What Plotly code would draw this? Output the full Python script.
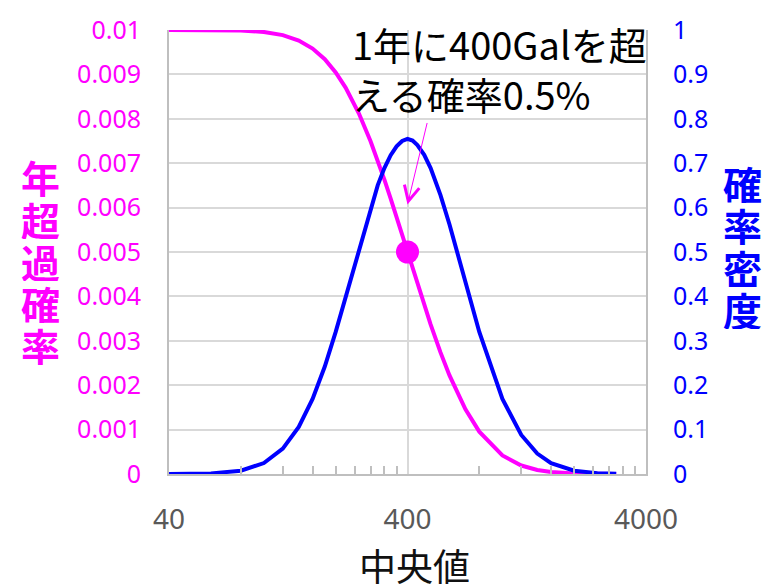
import math
import plotly.graph_objects as go

# ---- data ----
X_VALUES = [40, 60, 80, 100, 120, 140, 160, 180, 200, 220, 250, 280, 300, 320, 340, 360, 380,
            400, 420, 440, 470, 500, 550, 600, 700, 800, 1000, 1200, 1400, 1600, 2000, 2500, 3000]
EXCEEDANCE = [0.01, 0.009998, 0.009988, 0.009956, 0.009885, 0.009762, 0.009581, 0.009341,
              0.009046, 0.008703, 0.008125, 0.007495, 0.007064, 0.006631, 0.006204, 0.005789,
              0.005386, 0.005, 0.004633, 0.004287, 0.003804, 0.003369, 0.002739, 0.002221,
              0.001455, 0.000954, 0.000419, 0.000191, 0.00009, 0.000045, 0.000012, 0.000003,
              0.000001]
DENSITY = [0.0001, 0.0012, 0.0075, 0.0246, 0.057, 0.106, 0.169, 0.242, 0.320, 0.398, 0.508,
           0.600, 0.650, 0.689, 0.718, 0.738, 0.750, 0.755, 0.751, 0.741, 0.719, 0.689, 0.628,
           0.562, 0.431, 0.320, 0.169, 0.088, 0.046, 0.0246, 0.0075, 0.0019, 0.0005]
MARK_X = [400]
MARK_Y = [0.005]
ARROW_Y = 0.00607

X_TICKS = [40, 400, 4000]
X_TICK_TEXT = ["40", "400", "4000"]
MINOR_TICKS = [80, 120, 160, 200, 240, 280, 320, 360,
               800, 1200, 1600, 2000, 2400, 2800, 3200, 3600]
Y1_TICKS = [0, 0.001, 0.002, 0.003, 0.004, 0.005, 0.006, 0.007, 0.008, 0.009, 0.01]
Y1_TEXT = ["0", "0.001", "0.002", "0.003", "0.004", "0.005", "0.006", "0.007", "0.008", "0.009", "0.01"]
Y2_TICKS = [0, 0.1, 0.2, 0.3, 0.4, 0.5, 0.6, 0.7, 0.8, 0.9, 1]
Y2_TEXT = ["0", "0.1", "0.2", "0.3", "0.4", "0.5", "0.6", "0.7", "0.8", "0.9", "1"]

LEFT_TITLE = "年超過確率"
RIGHT_TITLE = "確率密度"
X_TITLE = "中央値"
NOTE_LINES = ["1年に400Galを超", "える確率0.5%"]

MAGENTA = "#FF00FF"
BLUE = "#0000FF"
GRID = "#D9D9D9"
AXIS = "#BFBFBF"
CLEAR = "rgba(0,0,0,0)"
NUM_FONT = "Noto Sans"
CJK_FONT = "Noto Sans CJK JP"

# plot area in pixels: left 169, right 646, top 24, bottom 474
PW, PH, PL, PB = 477.0, 450.0, 169.0, 474.0


def px(xp):
    return (xp - PL) / PW


def py(yp):
    return (PB - yp) / PH


fig = go.Figure()
fig.add_trace(go.Scatter(x=X_VALUES, y=EXCEEDANCE, mode="lines",
                         line=dict(color=MAGENTA, width=4), yaxis="y", showlegend=False))
fig.add_trace(go.Scatter(x=MARK_X, y=MARK_Y, mode="markers",
                         marker=dict(color=MAGENTA, size=23), yaxis="y", showlegend=False))
fig.add_trace(go.Scatter(x=X_VALUES, y=DENSITY, mode="lines",
                         line=dict(color=BLUE, width=4), yaxis="y2", showlegend=False))

annotations = []
for line, yc in zip(NOTE_LINES, [38, 88]):
    annotations.append(dict(text=line, xref="paper", yref="paper", x=px(350), y=py(yc),
                            xanchor="left", yanchor="middle", showarrow=False,
                            font=dict(family=CJK_FONT, size=38, color="#000000")))
annotations.append(dict(text="", x=math.log10(MARK_X[0]), y=ARROW_Y, xref="x", yref="y",
                        showarrow=True, ax=20, ay=-83, arrowhead=5, arrowsize=3,
                        arrowwidth=1, arrowcolor=MAGENTA, standoff=0))
for i, ch in enumerate(LEFT_TITLE):
    annotations.append(dict(text="<b>%s</b>" % ch, xref="paper", yref="paper",
                            x=px(40), y=py(173 + 42.5 * i), height=40,
                            xanchor="center", yanchor="middle", showarrow=False,
                            font=dict(family=CJK_FONT, size=39, color=MAGENTA)))
for i, ch in enumerate(RIGHT_TITLE):
    annotations.append(dict(text="<b>%s</b>" % ch, xref="paper", yref="paper",
                            x=px(742), y=py(179 + 42.5 * i), height=40,
                            xanchor="center", yanchor="middle", showarrow=False,
                            font=dict(family=CJK_FONT, size=39, color=BLUE)))
annotations.append(dict(text=X_TITLE, xref="paper", yref="paper", x=px(414), y=py(566),
                        xanchor="center", yanchor="middle", showarrow=False,
                        font=dict(family=CJK_FONT, size=37, color="#111111")))

fig.update_layout(
    width=762, height=584,
    margin=dict(l=169, r=116, t=24, b=110),
    paper_bgcolor="white", plot_bgcolor="white",
    annotations=annotations,
    xaxis=dict(type="log", range=[math.log10(40), math.log10(4000)],
               tickmode="array", tickvals=X_TICKS, ticktext=X_TICK_TEXT,
               tickfont=dict(family=NUM_FONT, size=28, color="#595959"),
               ticks="", ticklabelstandoff=19,
               showgrid=True, gridcolor=GRID, gridwidth=2,
               showline=True, linecolor=AXIS, linewidth=2,
               minor=dict(tickmode="array", tickvals=MINOR_TICKS, ticks="inside",
                          ticklen=8, tickcolor=AXIS, tickwidth=1.5, showgrid=False),
               zeroline=False),
    yaxis=dict(range=[0, 0.01], tickmode="array", tickvals=Y1_TICKS, ticktext=Y1_TEXT,
               tickfont=dict(family=NUM_FONT, size=25, color=MAGENTA),
               ticks="outside", ticklen=21, tickcolor=CLEAR,
               showgrid=True, gridcolor=GRID, gridwidth=2,
               showline=True, linecolor=AXIS, linewidth=2, zeroline=False),
    yaxis2=dict(range=[0, 1], overlaying="y", side="right", tickmode="array",
                tickvals=Y2_TICKS, ticktext=Y2_TEXT,
                tickfont=dict(family=NUM_FONT, size=25, color=BLUE),
                ticks="outside", ticklen=20, tickcolor=CLEAR,
                showgrid=False, showline=True, linecolor=AXIS, linewidth=2, zeroline=False),
    yaxis3=dict(range=[0, 1], overlaying="y", side="right", tickmode="array",
                tickvals=Y2_TICKS, showticklabels=False,
                ticks="outside", ticklen=9, tickcolor=AXIS, tickwidth=1.5,
                showgrid=False, showline=False, zeroline=False),
)

fig.write_html("out.html")
